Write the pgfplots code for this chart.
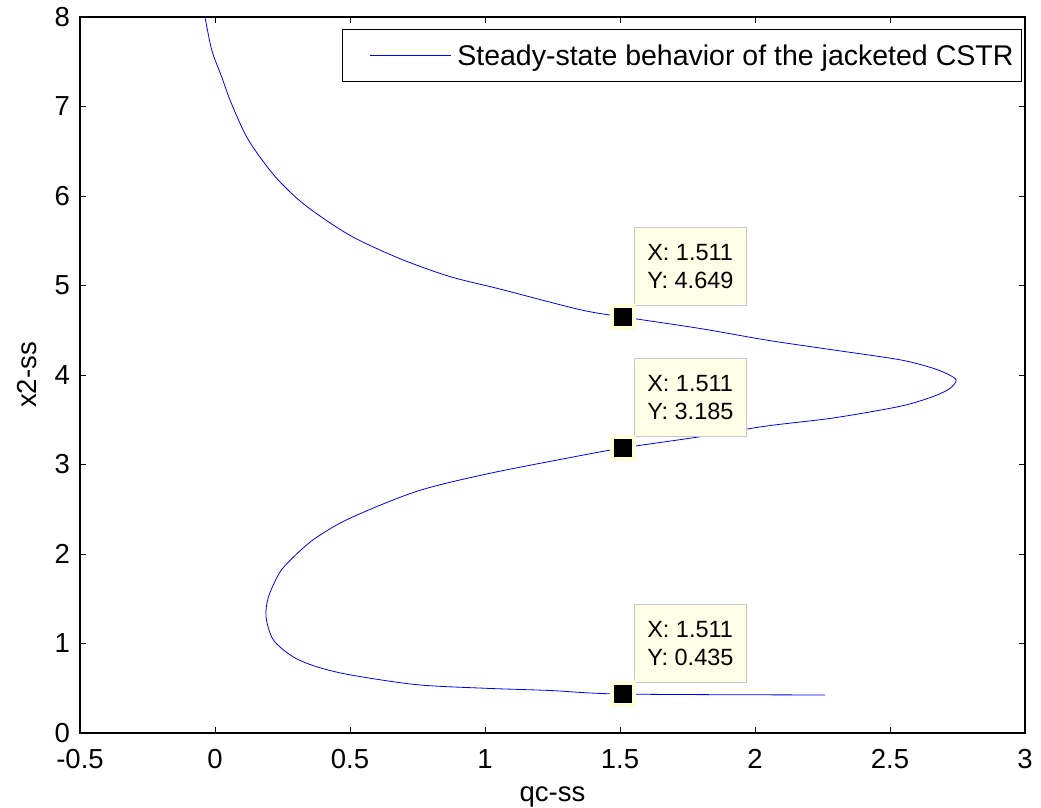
\documentclass[border=0pt]{standalone}
\usepackage{fontspec}
\setmainfont{Liberation Sans}
\usepackage{pgfplots}
\pgfplotsset{compat=1.18}
\definecolor{tipfill}{RGB}{255,255,232}
\definecolor{tipedge}{RGB}{200,200,200}
\definecolor{markedge}{RGB}{255,255,215}
\begin{document}
\begin{tikzpicture}
\useasboundingbox (-80pt,-74pt) rectangle (961pt,733pt);
\begin{axis}[
  scale only axis,
  width=945pt, height=716pt,
  xmin=-0.5, xmax=3, ymin=0, ymax=8,
  xtick={-0.5,0,0.5,1,1.5,2,2.5,3},
  xticklabels={-0.5,0,0.5,1,1.5,2,2.5,3},
  ytick={0,1,2,3,4,5,6,7,8},
  tick align=inside,
  major tick length=6pt,
  tick style={black, line width=1pt},
  axis line style={black, line width=1.5pt},
  /pgf/number format/assume math mode=true,
  tick label style={font=\fontsize{27.5}{32}\selectfont, inner sep=1pt},
  label style={font=\fontsize{27.5}{32}\selectfont},
  xlabel={qc-ss}, ylabel={x2-ss},
  xticklabel style={yshift=-15pt},
  yticklabel style={xshift=-9pt},
  xlabel style={yshift=-13pt},
  ylabel style={yshift=13pt},
  legend cell align=left,
  legend style={at={(1,1)}, anchor=north east, xshift=-3pt, yshift=-12pt,
    draw=black, line width=1.2pt, fill=white,
    font=\fontsize{28.5}{32}\selectfont, inner xsep=6pt, inner ysep=13pt},
  legend image code/.code={\path (0pt,0pt); \draw[#1, line width=0.8pt] (21pt,0pt) -- (102pt,0pt); \path (106pt,0pt);},
]
\addplot[blue, line width=0.8pt, smooth, tension=0.5] coordinates {
(-0.037,8.0) (-0.012,7.63) (0.025,7.33) (0.06,7.04) (0.123,6.63)
(0.222,6.22) (0.333,5.90) (0.5,5.56) (0.685,5.30) (0.870,5.10)
(1.056,4.96) (1.352,4.73) (1.511,4.649) (1.796,4.52) (2.043,4.39)
(2.29,4.28) (2.537,4.17) (2.66,4.075) (2.72,4.0) (2.745,3.94)
(2.722,3.85) (2.66,3.76) (2.537,3.65) (2.29,3.52) (2.043,3.43)
(1.796,3.31) (1.511,3.185) (1.302,3.07) (1.0,2.89) (0.747,2.70)
(0.5,2.40) (0.364,2.16) (0.272,1.91) (0.235,1.77) (0.198,1.52)
(0.189,1.30) (0.216,1.04) (0.29,0.85) (0.377,0.74) (0.5,0.65)
(0.747,0.54) (1.0,0.50) (1.24,0.475) (1.511,0.435) (2.26,0.425)
};
\addlegendentry{Steady-state behavior of the jacketed CSTR}
\addplot[only marks, mark=square*, mark size=11pt,
  mark options={fill=black, draw=markedge, line width=4pt}, forget plot]
  coordinates {(1.511,4.649) (1.511,3.185) (1.511,0.435)};
\tikzset{tip/.style={anchor=south west, fill=tipfill, draw=tipedge, line width=0.8pt,
  minimum width=112pt, minimum height=78pt, align=left,
  font=\fontsize{23.5}{28}\selectfont, xshift=11pt, yshift=11pt}}
\node[tip] at (axis cs:1.511,4.649) {X: 1.511\\Y: 4.649};
\node[tip] at (axis cs:1.511,3.185) {X: 1.511\\Y: 3.185};
\node[tip] at (axis cs:1.511,0.435) {X: 1.511\\Y: 0.435};
\end{axis}
\end{tikzpicture}
\end{document}
